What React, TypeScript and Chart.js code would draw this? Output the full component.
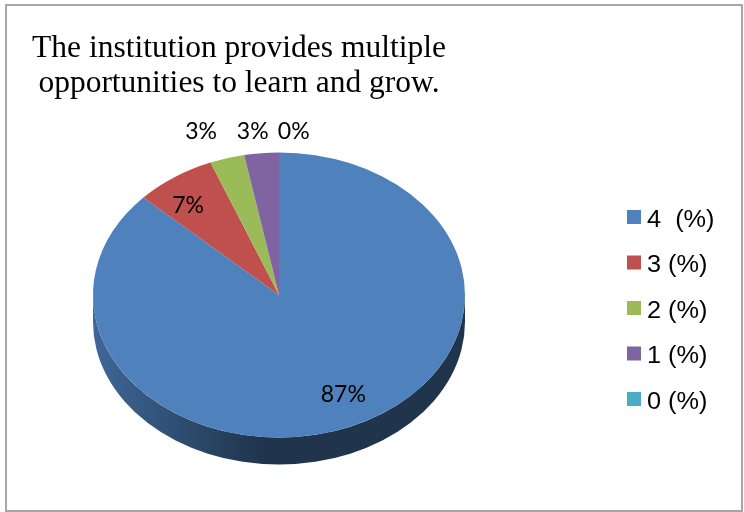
import { useEffect, useRef } from 'react';
import Chart from 'chart.js/auto';

const titleLines = ['The institution provides multiple', 'opportunities to learn and grow.'];
const categories = ['4  (%)', '3 (%)', '2 (%)', '1 (%)', '0 (%)'];
const values = [87, 7, 3, 3, 0];
const colors = ['#4F81BD', '#C0504D', '#9BBB59', '#8064A2', '#4BACC6'];

const TILT = 0.766;
const DEPTH = 27;

function shade(hex: string, f: number) {
  const n = parseInt(hex.slice(1), 16);
  const r = Math.round(((n >> 16) & 255) * f);
  const g = Math.round(((n >> 8) & 255) * f);
  const b = Math.round((n & 255) * f);
  return `rgb(${r},${g},${b})`;
}

const pie3d = {
  id: 'pie3d',
  beforeDatasetsDraw(chart: any) {
    const ctx = chart.ctx;
    const arcs = chart.getDatasetMeta(0).data;
    const p0 = arcs[0].getProps(['x', 'y', 'outerRadius'], true);
    const cx = p0.x, cy = p0.y, r = p0.outerRadius, ry = r * TILT;
    arcs.forEach((arc: any, i: number) => {
      const p = arc.getProps(['startAngle', 'endAngle'], true);
      for (let k = -1; k <= 1; k++) {
        const lo = Math.max(p.startAngle, k * 2 * Math.PI);
        const hi = Math.min(p.endAngle, k * 2 * Math.PI + Math.PI);
        if (hi - lo <= 1e-6) continue;
        const grad = ctx.createLinearGradient(cx - r, 0, cx + r, 0);
        grad.addColorStop(0, shade(colors[i], 0.8));
        grad.addColorStop(0.45, shade(colors[i], 0.41));
        grad.addColorStop(1, shade(colors[i], 0.4));
        ctx.save();
        ctx.beginPath();
        ctx.ellipse(cx, cy, r, ry, 0, lo, hi, false);
        ctx.ellipse(cx, cy + DEPTH, r, ry, 0, hi, lo, true);
        ctx.closePath();
        ctx.fillStyle = grad;
        ctx.fill();
        ctx.restore();
      }
    });
    ctx.save();
    ctx.translate(cx, cy);
    ctx.scale(1, TILT);
    ctx.translate(-cx, -cy);
  },
  afterDatasetsDraw(chart: any) {
    const ctx = chart.ctx;
    ctx.restore();
    const arcs = chart.getDatasetMeta(0).data;
    const p0 = arcs[0].getProps(['x', 'y', 'outerRadius'], true);
    const cx = p0.x, cy = p0.y, r = p0.outerRadius, ry = r * TILT;
    const total = values.reduce((a, b) => a + b, 0);
    ctx.save();
    ctx.fillStyle = '#000';
    ctx.font = '23px Lato';
    ctx.textAlign = 'center';
    ctx.textBaseline = 'alphabetic';
    let lastX = -Infinity;
    arcs.forEach((arc: any, i: number) => {
      const p = arc.getProps(['startAngle', 'endAngle'], true);
      const mid = (p.startAngle + p.endAngle) / 2;
      const pct = Math.round((values[i] / total) * 100);
      const txt = pct + '%';
      if (pct >= 5) {
        const x = cx + 0.87 * r * Math.cos(mid);
        const y = cy + 0.76 * ry * Math.sin(mid) + 8;
        ctx.fillText(txt, x, y);
      } else {
        let x = cx + 1.5 * r * Math.cos(mid);
        if (x < lastX + 41) x = lastX + 41;
        lastX = x;
        ctx.fillText(txt, x, cy - ry - 13.5);
      }
    });
    ctx.restore();
  },
  afterDraw(chart: any) {
    const ctx = chart.ctx;
    ctx.save();
    // title
    ctx.fillStyle = '#000';
    ctx.font = '31.5px "Liberation Serif"';
    ctx.textAlign = 'center';
    ctx.textBaseline = 'alphabetic';
    ctx.fillText(titleLines[0], 239, 57);
    ctx.fillText(titleLines[1], 239, 92);
    // legend
    ctx.textAlign = 'left';
    ctx.font = '23px "Liberation Sans"';
    categories.forEach((c, i) => {
      const yc = 217 + i * 45.5;
      ctx.fillStyle = colors[i];
      ctx.fillRect(627, yc - 7, 14, 14);
      ctx.fillStyle = '#000';
      ctx.save();
      ctx.translate(647, yc + 9.8);
      ctx.scale(1.1, 1);
      ctx.fillText(c, 0, 0);
      ctx.restore();
    });
    // frame
    ctx.strokeStyle = '#a6a6a6';
    ctx.lineWidth = 2;
    ctx.strokeRect(6, 5, 736, 506);
    ctx.restore();
  },
};

export default function App() {
  const ref = useRef<HTMLCanvasElement>(null);
  useEffect(() => {
    document.body.style.margin = '0';
    const chart = new Chart(ref.current!, {
      type: 'pie',
      data: {
        labels: categories,
        datasets: [
          {
            data: values,
            backgroundColor: colors,
            borderWidth: 0,
            hoverOffset: 0,
            clip: false as any,
          },
        ],
      },
      options: {
        animation: false,
        responsive: true,
        maintainAspectRatio: false,
        layout: { padding: { left: 93, right: 279, top: 109, bottom: 31 } },
        plugins: {
          legend: { display: false },
          tooltip: { enabled: false },
          title: { display: false },
        },
        events: [],
      },
      plugins: [pie3d],
    });
    return () => chart.destroy();
  }, []);
  return (
    <div style={{ width: 744, height: 512, position: 'relative', background: '#fff' }}>
      <canvas ref={ref} />
    </div>
  );
}
